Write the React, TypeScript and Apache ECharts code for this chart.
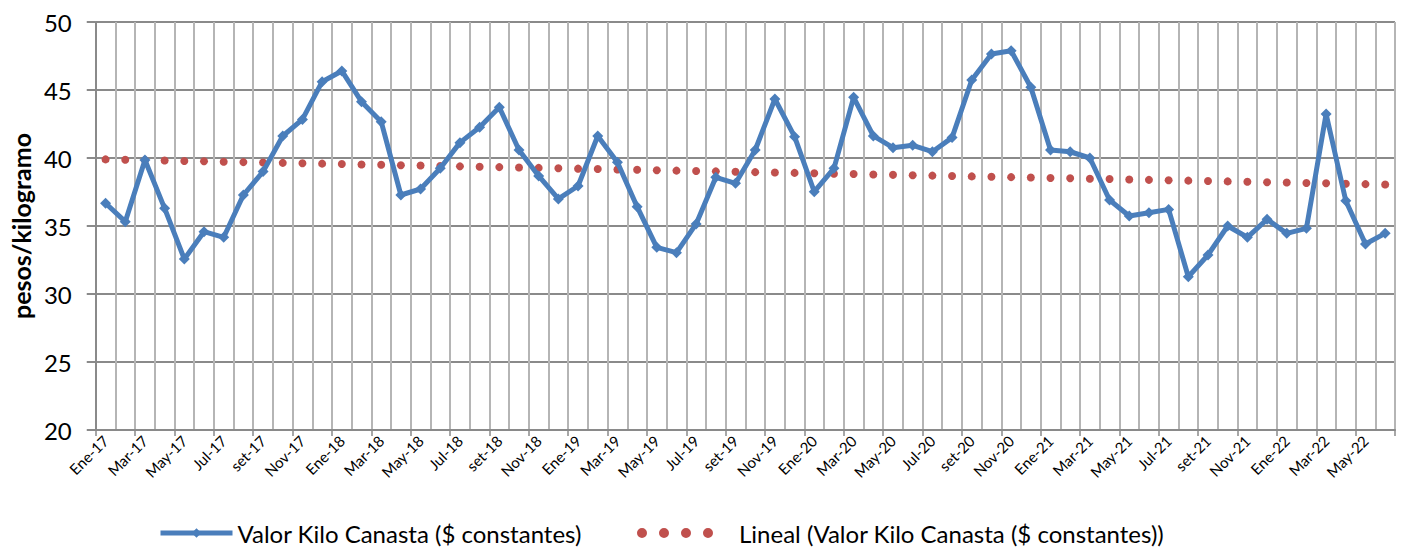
import React, { useEffect, useRef } from "react";
import * as echarts from "echarts";

const months = ["Ene", "Feb", "Mar", "Abr", "May", "Jun", "Jul", "Ago", "set", "Oct", "Nov", "Dic"];
const years = ["17", "18", "19", "20", "21", "22"];
const categories: string[] = [];
years.forEach((y) => months.forEach((m) => categories.push(`${m}-${y}`)));
categories.splice(66);

const valorKilo = [
  36.67, 35.32, 39.85, 36.3, 32.57, 34.58, 34.17, 37.28, 39.0, 41.62, 42.84, 45.61,
  46.4, 44.14, 42.67, 37.28, 37.72, 39.24, 41.13, 42.26, 43.73, 40.59, 38.68, 36.99,
  37.94, 41.62, 39.68, 36.42, 33.43, 33.04, 35.15, 38.58, 38.14, 40.59, 44.34, 41.57,
  37.52, 39.24, 44.46, 41.62, 40.76, 40.93, 40.46, 41.5, 45.74, 47.65, 47.89, 45.2,
  40.59, 40.46, 40.0, 36.91, 35.74, 35.98, 36.22, 31.27, 32.87, 35.0, 34.17, 35.49,
  34.46, 34.83, 43.24, 36.86, 33.68, 34.46,
];

const yTicks = [20, 25, 30, 35, 40, 45, 50];

const serieName = "Valor Kilo Canasta ($ constantes)";
const trendName = "Lineal (Valor Kilo Canasta ($ constantes))";

// Excel "Lineal" trendline: least-squares fit of the series
function linearTrend(vals: number[]): number[] {
  const n = vals.length;
  let sx = 0, sy = 0, sxx = 0, sxy = 0;
  vals.forEach((v, i) => {
    const x = i + 1;
    sx += x; sy += v; sxx += x * x; sxy += x * v;
  });
  const b = (n * sxy - sx * sy) / (n * sxx - sx * sx);
  const a = (sy - b * sx) / n;
  return vals.map((_, i) => +(a + b * (i + 1)).toFixed(3));
}

const FONT = "Lato";
const dotsIcon =
  "path://M0,5a5,5 0 1,0 10,0a5,5 0 1,0 -10,0M22,5a5,5 0 1,0 10,0a5,5 0 1,0 -10,0M44,5a5,5 0 1,0 10,0a5,5 0 1,0 -10,0M66,5a5,5 0 1,0 10,0a5,5 0 1,0 -10,0";

export default function App() {
  const ref = useRef<HTMLDivElement>(null);
  useEffect(() => {
    document.body.style.margin = "0";
    const chart = echarts.init(ref.current!, null, { renderer: "svg" });
    const trend = linearTrend(valorKilo);
    chart.setOption({
      animation: false,
      backgroundColor: "#ffffff",
      textStyle: { fontFamily: FONT },
      grid: { left: 95, right: 11, top: 22, bottom: 117, containLabel: false },
      legend: [
        {
          data: [{ name: serieName, lineStyle: { width: 5 } }],
          left: 153,
          top: 515,
          itemWidth: 72,
          itemHeight: 12,
          itemGap: 8,
          textStyle: { fontSize: 24, lineHeight: 26, color: "#000", fontFamily: FONT },
        },
        {
          data: [{ name: trendName, icon: dotsIcon }],
          left: 632,
          top: 515,
          itemWidth: 78,
          itemHeight: 10,
          itemGap: 8,
          formatter: "{t|{name}}",
          textStyle: {
            fontSize: 24,
            lineHeight: 26,
            color: "#000",
            fontFamily: FONT,
            rich: { t: { fontSize: 24, lineHeight: 26, fontFamily: FONT, color: "#000", padding: [0, 0, 0, 20] } },
          },
        },
      ],
      xAxis: {
        type: "category",
        data: categories,
        boundaryGap: true,
        axisLine: { show: true, lineStyle: { color: "#8a8a8a", width: 2 } },
        axisTick: { show: true, interval: 1, length: 6, lineStyle: { color: "#8a8a8a", width: 1.5 } },
        axisLabel: {
          interval: 1,
          rotate: 45,
          fontSize: 15,
          color: "#000",
          margin: 8,
          fontFamily: FONT,
        },
        splitLine: { show: true, interval: 0, lineStyle: { color: "#b5b5b5", width: 2 } },
      },
      yAxis: {
        type: "value",
        min: 20,
        max: 50,
        interval: 5,
        name: "pesos/kilogramo",
        nameLocation: "middle",
        nameGap: 48,
        nameTextStyle: { fontSize: 25, fontWeight: "bold", color: "#000", fontFamily: FONT },
        axisLine: { show: true, lineStyle: { color: "#8a8a8a", width: 2 } },
        axisTick: { show: true, length: 9, lineStyle: { color: "#8a8a8a", width: 2 } },
        axisLabel: {
          fontSize: 24,
          color: "#000",
          margin: 24,
          fontFamily: FONT,
          formatter: (v: number) => (yTicks.includes(v) ? String(v) : ""),
        },
        splitLine: { show: true, lineStyle: { color: "#8a8a8a", width: 2 } },
      },
      series: [
        {
          name: serieName,
          type: "line",
          data: valorKilo,
          symbol: "diamond",
          symbolSize: 11,
          showAllSymbol: true,
          lineStyle: { color: "#4a7ebb", width: 5 },
          itemStyle: { color: "#4a7ebb" },
          z: 3,
        },
        {
          name: trendName,
          type: "line",
          data: trend,
          symbol: "circle",
          symbolSize: 8,
          showAllSymbol: true,
          lineStyle: { width: 0, opacity: 0 },
          itemStyle: { color: "#c0504d" },
          z: 2,
        },
      ],
    });
    return () => chart.dispose();
  }, []);
  return <div ref={ref} style={{ width: 1406, height: 547 }} />;
}
